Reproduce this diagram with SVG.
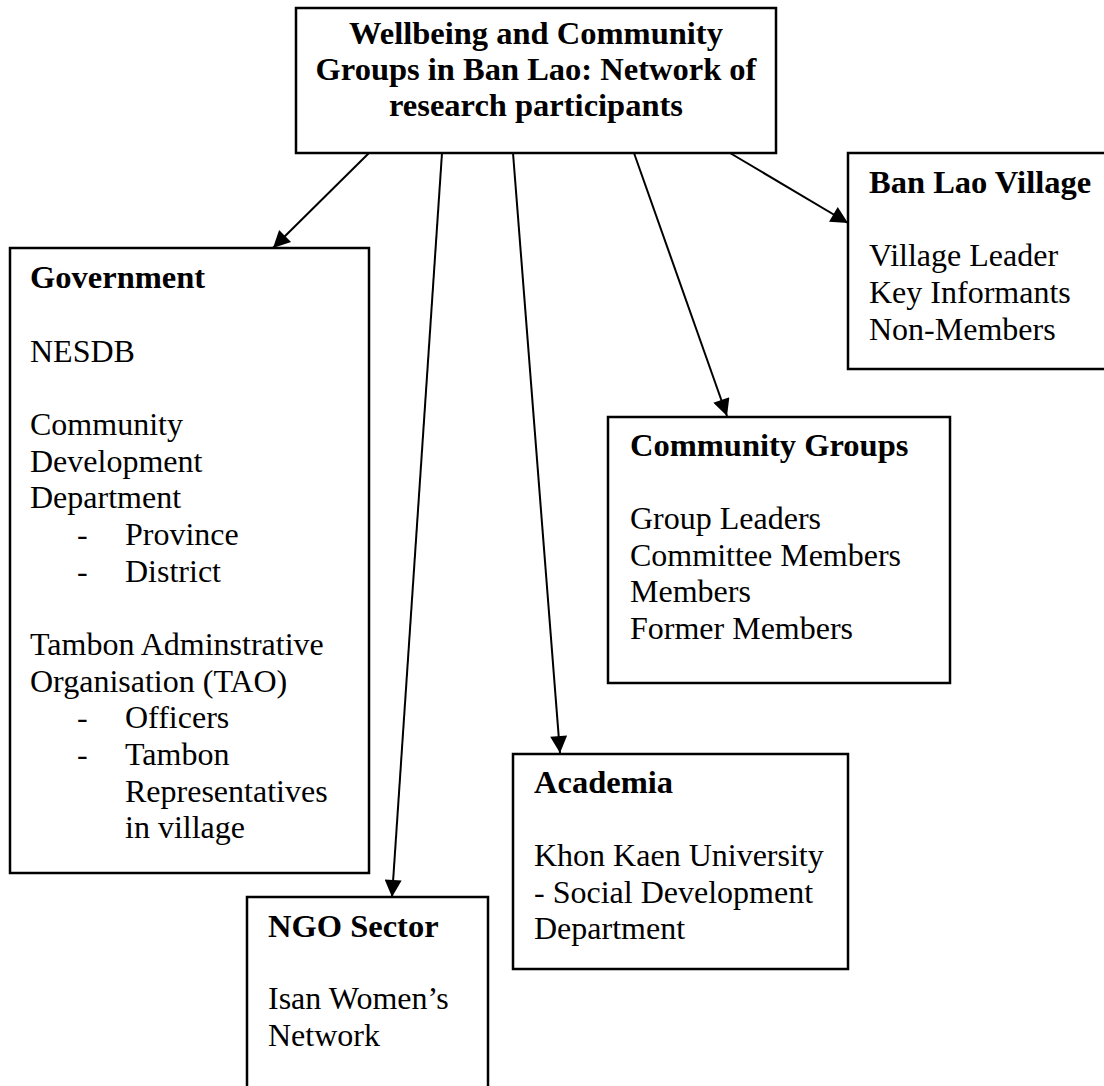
<svg xmlns="http://www.w3.org/2000/svg" width="1104" height="1086" viewBox="0 0 1104 1086">
<style>
.box{fill:#fff;stroke:#000;stroke-width:2.5}
text{font-family:"Liberation Serif","Times New Roman",serif;font-size:32px;fill:#000}
.b{font-weight:bold;font-size:32.5px}
.conn line{stroke:#000;stroke-width:2}
</style>
<defs>
<marker id="ah" viewBox="0 0 10 10" refX="10" refY="5" markerWidth="22" markerHeight="17" markerUnits="userSpaceOnUse" orient="auto">
<path d="M0,0 L10,5 L0,10 Z" fill="#000"/>
</marker>
</defs>
<rect width="1104" height="1086" fill="#fff"/>
<g id="title">
<rect class="box" x="296" y="8" width="480" height="145"/>
<text class="b" x="536" y="44" text-anchor="middle">Wellbeing and Community</text>
<text class="b" x="536" y="80" text-anchor="middle">Groups in Ban Lao: Network of</text>
<text class="b" x="536" y="116" text-anchor="middle">research participants</text>
</g>
<g id="government">
<rect class="box" x="10" y="248" width="359" height="625"/>
<text class="b" x="30" y="288">Government</text>
<text x="30" y="362">NESDB</text>
<text x="30" y="435">Community</text>
<text x="30" y="472">Development</text>
<text x="30" y="508">Department</text>
<text x="77" y="545">-</text><text x="125" y="545">Province</text>
<text x="77" y="582">-</text><text x="125" y="582">District</text>
<text x="30" y="655">Tambon Adminstrative</text>
<text x="30" y="692">Organisation (TAO)</text>
<text x="77" y="728">-</text><text x="125" y="728">Officers</text>
<text x="77" y="765">-</text><text x="125" y="765">Tambon</text>
<text x="125" y="802">Representatives</text>
<text x="125" y="838">in village</text>
</g>
<g id="ngo">
<rect class="box" x="247" y="897" width="241" height="200"/>
<text class="b" x="268" y="937">NGO Sector</text>
<text x="268" y="1009">Isan Women’s</text>
<text x="268" y="1046">Network</text>
</g>
<g id="academia">
<rect class="box" x="513" y="754" width="335" height="215"/>
<text class="b" x="534" y="793">Academia</text>
<text x="534" y="866">Khon Kaen University</text>
<text x="534" y="903">- Social Development</text>
<text x="534" y="939">Department</text>
</g>
<g id="community">
<rect class="box" x="608" y="417" width="342" height="266"/>
<text class="b" x="630" y="456">Community Groups</text>
<text x="630" y="529">Group Leaders</text>
<text x="630" y="566">Committee Members</text>
<text x="630" y="602">Members</text>
<text x="630" y="639">Former Members</text>
</g>
<g id="banlao">
<rect class="box" x="848" y="153" width="280" height="216"/>
<text class="b" x="869" y="193">Ban Lao Village</text>
<text x="869" y="266">Village Leader</text>
<text x="869" y="303">Key Informants</text>
<text x="869" y="340">Non-Members</text>
</g>
<g class="conn" id="connectors">
<line x1="369" y1="153" x2="273" y2="248" marker-end="url(#ah)"/>
<line x1="442" y1="153" x2="392" y2="897" marker-end="url(#ah)"/>
<line x1="513" y1="153" x2="560" y2="753" marker-end="url(#ah)"/>
<line x1="634" y1="153" x2="727" y2="416" marker-end="url(#ah)"/>
<line x1="730" y1="153" x2="848" y2="223" marker-end="url(#ah)"/>
</g>
</svg>
